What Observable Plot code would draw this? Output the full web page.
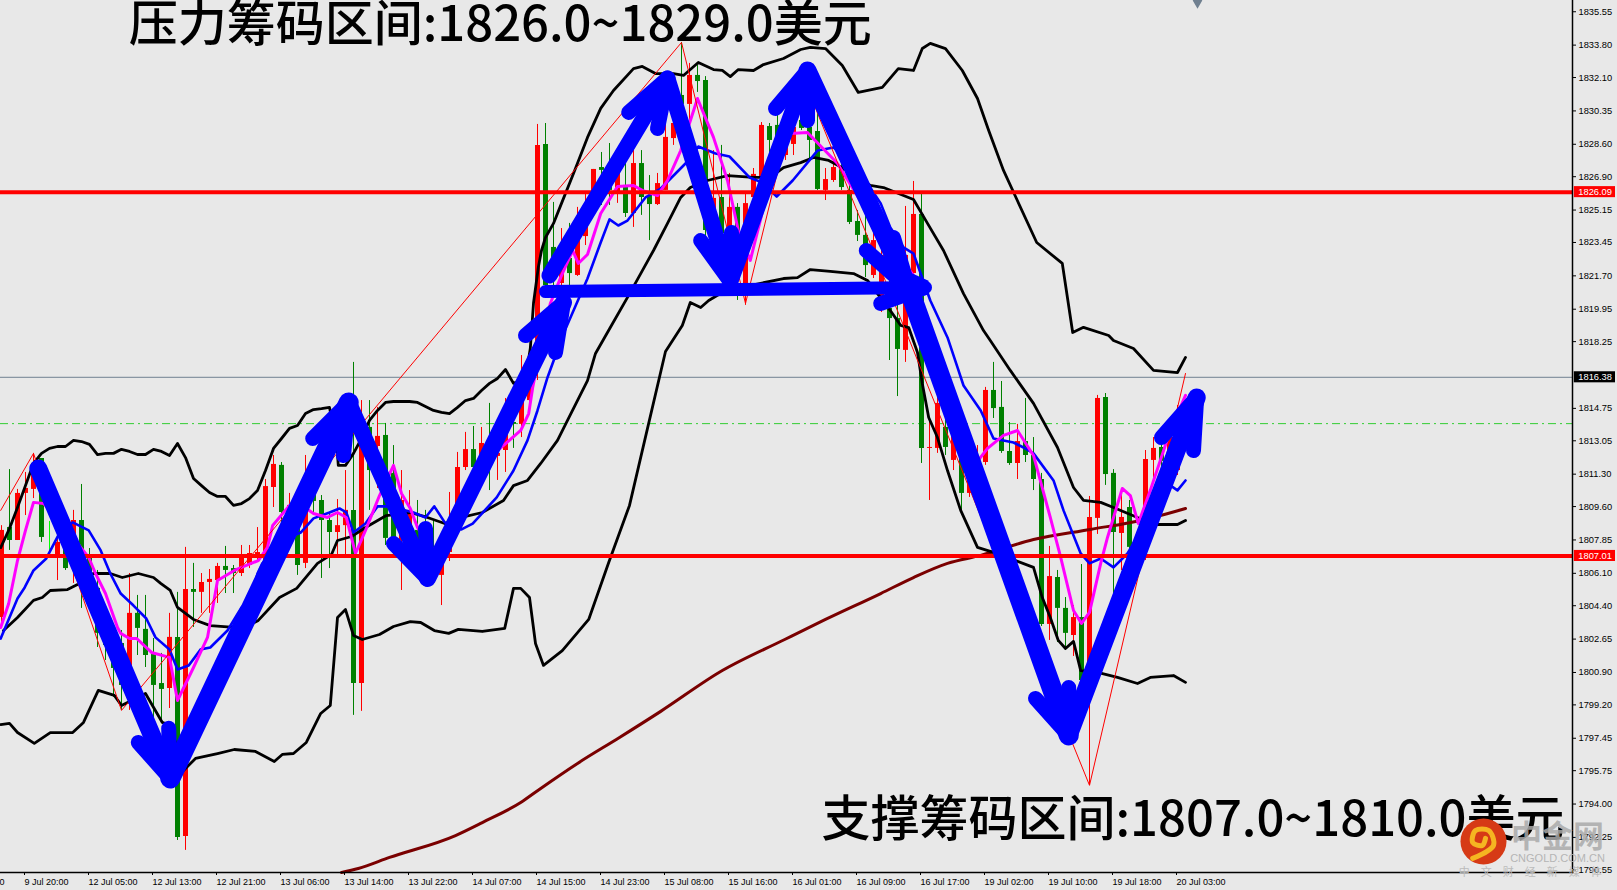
<!DOCTYPE html>
<html><head><meta charset="utf-8">
<style>html,body{margin:0;padding:0;background:#e8e8e8;overflow:hidden}svg{display:block}</style>
<script src="https://cdn.jsdelivr.net/npm/d3@7"></script>
<script src="https://cdn.jsdelivr.net/npm/@observablehq/plot@0.6"></script>
</head><body><div id="chart"></div>
<script>
const sides="RGRRRGDRGRGGGGGGRGGGGRGRGRRRGGRRRRRGRGRGGGRRGRGRGGRRGGGRRRRGRGRRGRRRGGRGRRRGGRGRGGRRRGRGGRGRGRRRGGRRGGGRRGGGGRRGGRRGRRGRGRRRGGGRGGGRGGRGRRGGRGGRRGRR";
const highs=[1808.60,1811.54,1810.50,1811.39,1812.39,1812.12,1808.82,1808.08,1808.19,1809.40,1810.76,1807.40,1806.25,1803.63,1802.58,1803.10,1806.09,1804.94,1804.94,1802.68,1801.90,1804.00,1805.10,1807.46,1806.62,1806.09,1806.30,1806.62,1807.51,1806.51,1807.56,1807.56,1808.50,1811.02,1812.28,1811.91,1810.29,1809.40,1812.28,1812.02,1810.18,1809.29,1809.97,1811.49,1817.16,1815.16,1815.16,1814.80,1813.96,1812.80,1811.49,1810.44,1809.92,1809.40,1808.87,1808.08,1810.34,1812.44,1813.49,1813.80,1813.75,1815.01,1813.70,1815.27,1814.53,1817.52,1816.48,1829.64,1829.69,1825.55,1824.18,1824.45,1825.29,1826.02,1827.28,1828.17,1828.64,1827.75,1827.59,1828.43,1828.27,1826.96,1827.07,1829.95,1830.90,1833.94,1832.84,1832.73,1832.15,1828.27,1828.54,1827.07,1825.49,1826.02,1827.33,1829.74,1829.69,1830.21,1830.11,1829.85,1830.11,1830.37,1830.53,1827.33,1827.75,1828.01,1826.96,1825.13,1824.87,1824.34,1823.55,1821.98,1820.93,1825.34,1826.65,1826.07,1814.22,1817.10,1816.37,1815.43,1813.85,1812.28,1812.80,1815.85,1817.16,1816.16,1814.01,1813.91,1815.27,1813.22,1811.34,1807.51,1806.25,1804.83,1804.41,1806.56,1810.13,1815.43,1815.53,1811.54,1810.44,1809.92,1808.35,1812.54,1813.22,1812.96,1814.12,1814.90,1816.58];
const lows=[1803.36,1807.30,1807.82,1809.13,1810.02,1807.72,1807.30,1805.72,1806.25,1805.57,1804.26,1805.10,1802.21,1801.53,1799.59,1798.91,1798.91,1801.79,1801.16,1798.49,1798.23,1799.01,1792.09,1791.57,1803.26,1804.00,1804.00,1804.52,1805.04,1805.04,1805.93,1806.35,1806.77,1806.62,1809.55,1808.71,1808.35,1805.99,1806.35,1809.13,1805.83,1806.35,1807.04,1807.04,1798.65,1798.86,1809.40,1810.55,1807.56,1806.93,1805.20,1806.77,1806.51,1805.99,1805.57,1804.41,1806.72,1808.60,1811.49,1811.07,1810.97,1810.44,1810.97,1811.39,1812.65,1813.22,1814.64,1816.21,1820.67,1820.67,1820.93,1820.41,1821.67,1823.29,1825.13,1825.39,1825.39,1825.50,1824.76,1824.24,1824.87,1823.55,1825.39,1826.18,1828.54,1829.06,1829.06,1831.32,1823.55,1823.55,1821.72,1823.55,1820.41,1820.15,1825.39,1826.81,1827.49,1826.96,1827.75,1828.01,1829.32,1827.75,1826.18,1825.65,1826.60,1826.18,1824.39,1823.50,1821.61,1821.56,1819.78,1817.26,1815.37,1817.16,1821.46,1811.86,1809.92,1812.39,1812.28,1811.49,1809.40,1810.08,1810.44,1811.76,1814.22,1812.39,1811.76,1811.02,1811.91,1810.44,1803.31,1802.58,1802.47,1802.05,1801.74,1800.48,1794.98,1808.14,1810.71,1805.04,1806.25,1806.77,1806.25,1806.77,1810.97,1810.97,1811.49,1811.23,1814.64];
const bodyTops=[1808.35,1808.50,1810.29,1810.55,1811.86,1812.12,1807.98,1807.72,1807.66,1808.87,1808.87,1806.88,1805.31,1802.95,1802.32,1802.42,1804.00,1804.00,1803.16,1801.84,1800.32,1802.74,1802.74,1805.25,1805.25,1805.62,1805.78,1806.46,1806.46,1806.35,1807.04,1807.14,1807.19,1810.65,1811.81,1811.76,1809.66,1808.77,1809.55,1811.39,1809.92,1808.87,1808.60,1809.40,1809.40,1812.91,1813.75,1813.28,1813.33,1811.34,1809.92,1809.40,1808.35,1807.56,1807.04,1806.93,1807.40,1811.65,1812.59,1812.59,1812.91,1812.80,1812.39,1813.75,1814.01,1815.16,1816.06,1828.54,1828.59,1823.19,1822.35,1822.61,1823.71,1824.34,1827.28,1827.38,1827.49,1827.07,1826.44,1827.59,1827.59,1825.91,1826.54,1828.96,1829.69,1831.16,1832.21,1832.21,1831.95,1825.76,1825.81,1825.29,1825.29,1825.49,1827.02,1829.59,1829.53,1829.59,1829.32,1829.48,1829.85,1829.48,1829.27,1826.75,1827.38,1827.33,1826.18,1824.55,1823.82,1823.55,1822.77,1819.99,1819.46,1822.77,1824.92,1824.92,1812.70,1815.01,1813.75,1814.64,1813.49,1811.34,1812.02,1815.69,1815.69,1814.80,1812.49,1813.01,1813.01,1812.28,1811.02,1805.93,1805.88,1804.26,1803.78,1803.78,1809.03,1815.27,1815.32,1811.34,1809.03,1809.55,1807.98,1812.07,1812.65,1812.70,1813.59,1813.85,1816.42];
const bodyBottoms=[1803.78,1807.82,1807.82,1810.29,1810.50,1807.98,1807.98,1807.04,1806.35,1806.35,1806.88,1805.36,1802.95,1802.32,1801.11,1800.22,1801.00,1803.21,1801.79,1800.22,1800.01,1800.06,1792.25,1792.30,1805.10,1805.10,1805.62,1805.72,1806.25,1806.09,1806.09,1806.51,1806.98,1806.77,1810.60,1809.29,1808.60,1806.51,1806.62,1809.87,1808.87,1808.24,1808.24,1808.60,1800.32,1800.32,1811.49,1812.75,1807.93,1807.93,1807.82,1807.56,1807.04,1806.77,1806.25,1805.99,1807.19,1809.13,1811.65,1811.65,1812.02,1811.91,1812.23,1812.54,1813.91,1813.91,1815.16,1816.84,1821.19,1821.46,1821.30,1821.82,1821.72,1823.76,1825.39,1827.23,1826.18,1826.07,1824.97,1824.97,1825.81,1825.44,1825.44,1826.18,1828.90,1830.69,1830.69,1831.89,1824.08,1824.08,1823.92,1824.24,1821.98,1820.93,1825.81,1826.86,1828.80,1827.75,1828.01,1828.59,1829.43,1828.80,1826.23,1826.18,1826.70,1826.33,1824.50,1823.82,1822.24,1821.72,1820.41,1819.46,1817.84,1817.79,1821.82,1812.65,1812.65,1812.65,1812.70,1812.02,1810.29,1810.29,1811.07,1811.91,1814.74,1812.49,1811.86,1811.86,1812.28,1811.02,1803.42,1803.42,1804.26,1802.95,1802.84,1800.48,1800.48,1808.98,1811.28,1808.24,1808.19,1807.46,1806.77,1807.66,1812.02,1811.97,1811.76,1811.49,1814.80];

const upperBars=[-0.1,1,2,3,4,5,6,7,8,9,10,11,12,13,14,15,16,17,18,19,20,21,22,23,24,25,26,27,28,29,30,31,32,33,34,35,36,37,38,39,40,41,41.9,42.1,43,44,45,46,47,48,49,50,51,52,53,54,55,56,57,58,59,60,61,62,63,64,65.5,66.1,66.5,67.1,67.5,68,69,70,71.5,73.25,74.9,76.5,79,80.1,81.75,84,85.25,87.1,89,90.1,91.1,92.1,94,95.25,97.75,99.9,101.1,103,105.1,107.1,110.1,112.1,114,115.1,116.1,118,120.1,122,123.4,125.25,126.75,129.4,132.6,133.9,135.25,138.4,139,141.5,144,147,148];
const upperPrices=[1807.45,1808.45,1809.55,1810.70,1811.86,1812.39,1812.65,1812.75,1812.75,1813.07,1813.01,1812.86,1812.33,1812.39,1812.39,1812.60,1812.49,1812.33,1812.33,1812.60,1812.49,1812.28,1812.91,1812.17,1811.07,1810.70,1810.34,1810.13,1810.13,1809.66,1809.76,1810.02,1810.44,1811.49,1812.65,1813.17,1813.70,1813.85,1814.48,1814.69,1814.74,1814.80,1812.91,1811.76,1811.76,1812.39,1813.17,1814.12,1814.64,1815.06,1815.11,1815.11,1815.11,1815.06,1814.85,1814.64,1814.54,1814.48,1814.80,1815.16,1815.27,1815.69,1816.06,1816.32,1816.79,1816.06,1816.32,1817.89,1820.26,1822.14,1823.03,1823.71,1824.45,1825.50,1827.07,1828.96,1830.48,1831.42,1832.57,1832.68,1832.31,1832.31,1832.21,1832.89,1832.52,1832.47,1832.15,1832.52,1832.47,1832.78,1833.10,1833.57,1833.68,1833.62,1832.73,1831.32,1831.58,1832.57,1832.47,1833.62,1833.89,1833.62,1832.47,1831.00,1829.32,1827.23,1825.86,1823.45,1822.35,1818.73,1819.00,1818.57,1818.31,1817.89,1816.74,1816.63,1817.42];

const middleBars=[0.25,2,4,5.1,6.1,8.25,9.5,11.5,13.6,15.1,17.1,19,19.9,21.1,22,24,26.1,29.1,30.9,32.1,34.75,36.9,39.5,41.25,42,43.75,45.5,48.1,51.1,53.25,55.4,57.5,60.1,62.75,64,65.75,67.4,69.5,70.75,73.25,74.25,76.1,78.25,79.9,81.5,83.25,84.9,86.1,88.25,90.75,94,96.1,97.75,99.9,101.5,103.4,105.75,108.6,110.25,114,115.75,117.75,120.25,122.75,123.6,126.1,129,132,134,135.25,137.4,139,142,144.5,147,148];
const middlePrices=[1803.10,1803.78,1804.68,1804.83,1805.20,1805.25,1805.51,1806.09,1806.09,1805.88,1806.09,1805.88,1805.57,1805.20,1804.31,1803.68,1803.36,1803.26,1803.36,1803.63,1804.83,1805.31,1806.62,1807.09,1807.82,1808.03,1808.50,1809.13,1809.29,1809.03,1808.71,1809.03,1809.29,1809.92,1810.70,1810.97,1811.86,1813.07,1814.12,1816.21,1817.63,1818.99,1820.57,1821.82,1823.03,1824.45,1825.81,1826.33,1826.70,1826.96,1826.86,1826.86,1827.38,1827.64,1827.91,1827.75,1827.23,1826.44,1826.33,1825.70,1824.45,1823.03,1820.77,1818.83,1818.31,1816.74,1815.01,1812.70,1810.60,1809.92,1809.82,1809.55,1809.03,1808.66,1808.66,1808.87];

const lowerBars=[-0.1,1,2,4.1,6.1,8.9,10.25,12.1,14.1,15,18,20.1,21.1,22.75,24.25,27,29.1,31.75,34.1,35.1,36.5,38.1,39.9,41.1,42,43,44,45.1,47.25,49,51.1,52.4,54.1,55.9,57.1,60.1,62.9,64,64.9,66,66.75,67.75,70.1,73.4,75.9,78.5,80.75,83,85.1,86.1,87.4,88.4,90.5,97.75,99.5,101.1,103.6,106.5,108.25,111.1,112.4,113.4,114.5,115.1,115.9,117,118.25,119.9,122,123.6,126.1,129,130.1,131.1,132.1,133,134,134.9,137,139.5,142,143.6,146.5,148];
const lowerPrices=[1798.17,1798.23,1797.75,1797.18,1797.75,1797.75,1798.28,1799.96,1799.70,1799.17,1799.80,1798.28,1798.12,1795.76,1796.39,1796.65,1796.86,1796.76,1796.23,1796.60,1796.65,1797.23,1798.75,1799.17,1803.78,1804.20,1802.84,1802.63,1802.89,1803.31,1803.57,1803.52,1803.10,1802.95,1803.16,1803.05,1803.21,1805.31,1805.31,1804.83,1802.42,1801.27,1802.05,1803.68,1806.67,1809.66,1813.70,1817.73,1819.10,1820.30,1820.04,1820.41,1820.93,1821.56,1821.61,1822.03,1821.93,1821.82,1821.46,1819.88,1819.10,1818.99,1817.68,1816.06,1814.27,1813.22,1811.49,1809.40,1807.46,1807.25,1806.88,1806.41,1804.83,1803.78,1802.58,1802.16,1802.53,1801.00,1800.90,1800.64,1800.32,1800.64,1800.74,1800.38];

const blueBars=[-0.1,1,2,2.9,4,5.6,7.1,8.9,10.9,12.4,13.6,14.9,16.5,18.1,19.25,21,22,23.4,24.9,26.1,28.25,30,31.25,32,32.6,34.9,36.6,37.4,39,41,42.25,43.1,44,45.5,47,48.5,51.5,53,54.1,55.4,57.5,58.9,61.9,64,65.75,67,68.25,70.25,73.25,74.9,76,77.1,78.25,80.5,82.4,85.5,87.1,89.25,91,93.5,95.1,96.9,98.9,102,104,106.5,108.25,109.9,111.1,112.75,114,114.9,116.1,118.25,119.5,120.25,122.4,124,126.5,127.75,129,131.5,132.75,134.9,136,137.4,139,140.75,143.6,146.1,147,148];
const bluePrices=[1802.68,1803.78,1804.78,1805.36,1806.25,1806.88,1808.09,1808.77,1808.35,1807.30,1806.09,1805.04,1804.41,1803.73,1802.74,1802.11,1801.06,1801.27,1802.11,1802.21,1803.10,1804.31,1804.83,1806.09,1806.62,1807.56,1808.09,1808.24,1808.98,1809.29,1809.50,1809.29,1808.24,1808.71,1809.61,1809.61,1809.29,1809.03,1809.61,1808.77,1808.40,1808.71,1810.08,1811.49,1813.07,1814.64,1816.37,1818.68,1821.56,1823.45,1824.66,1824.34,1824.60,1825.81,1826.28,1827.59,1828.48,1828.12,1827.96,1826.86,1826.60,1825.86,1826.70,1828.27,1828.43,1827.59,1826.54,1825.50,1824.24,1823.19,1822.87,1821.82,1820.41,1818.47,1816.90,1815.95,1814.64,1813.17,1812.96,1812.70,1812.39,1810.97,1809.40,1807.14,1806.62,1806.88,1806.41,1807.14,1809.13,1810.71,1810.45,1810.97];

const magentaBars=[-0.1,0.9,2,3,4,5.25,7.4,9.9,10.9,11.75,13,14.5,14.9,16,16.9,18.75,21,22,24,25.75,27,29.1,32.1,33.25,33.9,36,38.1,39,40.75,42,43.1,44.25,45.5,47.25,49,50,51.1,52,53.6,55.5,58,61.75,64.9,65.9,66.4,67,68.6,69.9,71.4,72.1,73.25,74.9,77,79,80.1,82,83.25,84.9,87,89,90.75,92.1,93.6,96.1,98.6,100.75,104.5,109.25,114,114.6,116.1,117.1,118.25,120.75,122,123.25,125.25,127,129,131.1,132.4,134,135,136,137.4,138.25,140.1,141.1,142.1,143.6,146.1,148];
const magentaPrices=[1803.26,1804.52,1806.77,1808.35,1809.82,1809.76,1808.87,1807.46,1806.93,1806.09,1805.04,1803.26,1802.95,1802.68,1802.68,1801.95,1801.69,1799.43,1801.16,1802.74,1805.72,1806.25,1806.77,1807.46,1808.61,1809.66,1809.50,1809.24,1809.03,1809.29,1809.03,1807.14,1808.35,1810.18,1811.76,1810.29,1809.50,1808.50,1807.46,1807.04,1809.40,1812.44,1813.59,1814.48,1815.85,1817.10,1820.25,1821.62,1823.03,1822.35,1822.82,1824.97,1826.39,1826.44,1826.18,1825.91,1826.70,1828.27,1831.00,1828.96,1826.70,1824.08,1822.51,1826.70,1829.17,1829.22,1827.59,1824.34,1821.72,1820.57,1818.15,1817.68,1815.53,1812.70,1811.97,1812.65,1813.33,1813.59,1812.28,1809.03,1806.93,1804.15,1803.47,1804.05,1806.62,1807.98,1810.55,1810.18,1808.71,1810.45,1813.59,1815.43];

const maroonBars=[42.5,44.6,48.5,56.75,60.1,64.9,67.4,72,77.25,82.4,90.1,97.9,103,109.9,114,118.25,122.4,129,136.1,142.4,148];
const maroonPrices=[1790.41,1790.62,1791.20,1792.35,1793.03,1794.08,1794.82,1796.13,1797.49,1798.86,1801.00,1802.63,1803.68,1805.04,1805.88,1806.62,1807.04,1807.87,1808.40,1808.87,1809.50];

const zigzagBars=[-0.1,4,15,85,93,100,136,148];
const zigzagPrices=[1809.40,1812.39,1798.91,1833.94,1820.25,1832.31,1794.98,1816.58];

// hand-drawn arrows: [bar, price] polylines, with the width each was drawn at
const arrowShafts=[
 [[4.6,1811.60],[21.1,1795.34]],
 [[21.1,1795.34],[43.4,1815.06]],
 [[43.4,1815.06],[53.25,1805.83]],
 [[53.25,1805.83],[70.25,1820.30]],
 [[68.5,1821.72],[83.25,1832.05]],
 [[83.25,1832.05],[91.1,1821.40]],
 [[91.1,1821.40],[100.75,1832.47]],
 [[100.75,1832.47],[113.4,1821.04]],
 [[113.4,1821.04],[133.4,1797.60]],
 [[68,1820.88],[115.5,1821.09]],
 [[133.4,1797.60],[149.4,1815.32]]
];
const arrowWidths=[18,20,16,17,16,16,16,18,20,13,18];
const arrowHeads=[
 [[17.1,1797.23],[21.1,1795.34],[20.9,1797.97]],
 [[38.9,1813.17],[43.4,1815.06],[42.75,1812.28]],
 [[49,1807.66],[53.25,1805.83],[53,1808.45]],
 [[65.5,1818.57],[70.25,1820.30],[69.25,1817.68]],
 [[78.4,1830.27],[83.25,1832.05],[82,1829.43]],
 [[87.4,1823.55],[91.1,1821.40],[91.25,1823.97]],
 [[96.75,1830.48],[100.75,1832.47],[100.75,1829.85]],
 [[108.1,1823.03],[113.4,1821.04],[111.5,1823.71]],
 [[129.25,1799.54],[133.4,1797.60],[133.4,1800.11]],
 [[109.9,1820.25],[115.5,1821.09],[113,1821.56]],
 [[145,1813.22],[149.4,1815.32],[149,1812.54]]
];

const yTicks=[1835.55,1833.80,1832.10,1830.35,1828.60,1826.90,1825.15,1823.45,1821.70,1819.95,1818.25,1814.75,1813.05,1811.30,1809.60,1807.85,1806.10,1804.40,1802.65,1800.90,1799.20,1797.45,1795.75,1794.00,1792.25,1790.55];
const xTickBars=[-5,3,11,19,27,35,43,51,59,67,75,83,91,99,107,115,123,131,139,147];
const xTickLabels=["9 Jul 12:00","9 Jul 20:00","12 Jul 05:00","12 Jul 13:00","12 Jul 21:00","13 Jul 06:00","13 Jul 14:00","13 Jul 22:00","14 Jul 07:00","14 Jul 15:00","14 Jul 23:00","15 Jul 08:00","15 Jul 16:00","16 Jul 01:00","16 Jul 09:00","16 Jul 17:00","19 Jul 02:00","19 Jul 10:00","19 Jul 18:00","20 Jul 03:00"];

const resistance=1826.09, support=1807.01, lastPrice=1816.38, dashLevel=1813.95;
const swirlBars=[183.9,186.5,185.9,184.25,183.9,185.1,185.5];
const swirlPrices=[1791.15,1791.83,1792.61,1792.61,1791.98,1791.83,1792.2];

const pairs=(b,p)=>b.map((v,i)=>[v,p[i]]);
const path=(pts,color,w,extra={})=>Plot.line(pts,{x:d=>d[0],y:d=>d[1],stroke:color,strokeWidth:w,...extra});
const idx=highs.map((_,i)=>i);
const candleMarks=[["R","#ff0000"],["G","#008000"],["D","#00ff00"]].flatMap(([s,c])=>{
  const sel=idx.filter(i=>sides[i]===s);
  return [
    Plot.ruleX(sel,{x:d=>d,y1:d=>lows[d],y2:d=>highs[d],stroke:c,strokeWidth:1}),
    s==="D"?Plot.ruleX(sel,{x:d=>d,y1:d=>bodyTops[d],y2:d=>bodyTops[d],stroke:c}):
    Plot.ruleX(sel,{x:d=>d,y1:d=>bodyBottoms[d],y2:d=>bodyTops[d],stroke:c,strokeWidth:5})
  ];
});
const tag=(price,bg)=>[
  Plot.rect([price],{x1:196.6,x2:201.75,y1:d=>d-0.29,y2:d=>d+0.29,fill:bg,inset:0}),
  Plot.text([price],{x:197.1,y:d=>d,text:d=>d.toFixed(2),textAnchor:"start",fill:"#fff",fontSize:9.3,fontFamily:"Liberation Sans"})
];
const chart=Plot.plot({
  width:1617,height:890,marginLeft:0,marginRight:45,marginTop:0,marginBottom:18,
  style:{background:"#e8e8e8",color:"#000",fontFamily:"Liberation Sans",overflow:"hidden"},
  x:{type:"linear",domain:[-0.125,196.375],axis:null},
  y:{type:"linear",domain:[1790.41,1836.14],axis:null},
  marks:[
    Plot.ruleY([lastPrice],{stroke:"#708090",strokeWidth:1}),
    Plot.ruleY([dashLevel],{stroke:"#32cd32",strokeWidth:1,strokeDasharray:"8,4,2,4"}),
    ...candleMarks,
    path(pairs(maroonBars,maroonPrices),"#7a0000",3,{curve:"monotone-x"}),
    path(pairs(upperBars,upperPrices),"#000",2.8),
    path(pairs(middleBars,middlePrices),"#000",2.8),
    path(pairs(lowerBars,lowerPrices),"#000",2.8),
    path(pairs(blueBars,bluePrices),"#0000ff",2.6),
    path(pairs(magentaBars,magentaPrices),"#ff00ff",3),
    Plot.ruleY([resistance,support],{stroke:"#ff0000",strokeWidth:4}),
    path(pairs(zigzagBars,zigzagPrices),"#ff0000",1),
    ...arrowShafts.map((s,i)=>path(s,"#0000ff",arrowWidths[i],{strokeLinecap:"round"})),
    ...arrowHeads.map(h=>path(h,"#0000ff",15,{strokeLinecap:"round",strokeLinejoin:"miter"})),
    Plot.axisX({anchor:"bottom",ticks:xTickBars,tickSize:3,tickPadding:3,textAnchor:"start",dx:-1,fontSize:9,label:null,stroke:"#000",fill:"#000",
      tickFormat:d=>xTickLabels[xTickBars.indexOf(d)]}),
    Plot.axisY({anchor:"right",ticks:yTicks,tickSize:3,tickPadding:3,fontSize:9.3,label:null,stroke:"#000",fill:"#000",tickFormat:d=>d.toFixed(2)}),
    Plot.frame({anchor:"right",stroke:"#000",strokeWidth:1.5}),
    Plot.frame({anchor:"bottom",stroke:"#000",strokeWidth:1.5}),
    ...tag(resistance,"#ff0000"),
    ...tag(lastPrice,"#000000"),
    ...tag(support,"#ff0000"),
    Plot.dot([[149.5,1836.14]],{x:d=>d[0],y:d=>d[1],symbol:"diamond",r:5,fill:"#708090"}),
    Plot.text(["压力筹码区间:1826.0~1829.0美元"],{x:15.9,y:1834.84,text:d=>d,textAnchor:"start",fontSize:49,fontWeight:500,fontFamily:"Noto Sans CJK SC",fill:"#000"}),
    Plot.text(["支撑筹码区间:1807.0~1810.0美元"],{x:102.5,y:1793.14,text:d=>d,textAnchor:"start",fontSize:49,fontWeight:500,fontFamily:"Noto Sans CJK SC",fill:"#000"}),
    Plot.dot([[185.25,1792.04]],{x:d=>d[0],y:d=>d[1],r:23,fill:"#d63a16"}),
    path(pairs(swirlBars,swirlPrices),"#f5b521",5,{curve:"catmull-rom",strokeLinecap:"round"}),
    Plot.text(["中金网"],{x:194.5,y:1792.25,text:d=>d,fontSize:31,fontWeight:"bold",fontFamily:"Noto Sans CJK SC",fill:"#aaaaaa",fillOpacity:0.85}),
    Plot.text(["CNGOLD.COM.CN"],{x:194.5,y:1791.15,text:d=>d,fontSize:11,fontFamily:"Liberation Sans",fill:"#b5b5b5"}),
    Plot.text(["中　文　财　经　新　媒　体"],{x:191.1,y:1790.41,text:d=>d,fontSize:11,fontFamily:"Noto Sans CJK SC",fill:"#bbbbbb"})
  ]
});
document.getElementById("chart").append(chart);
</script></body></html>
